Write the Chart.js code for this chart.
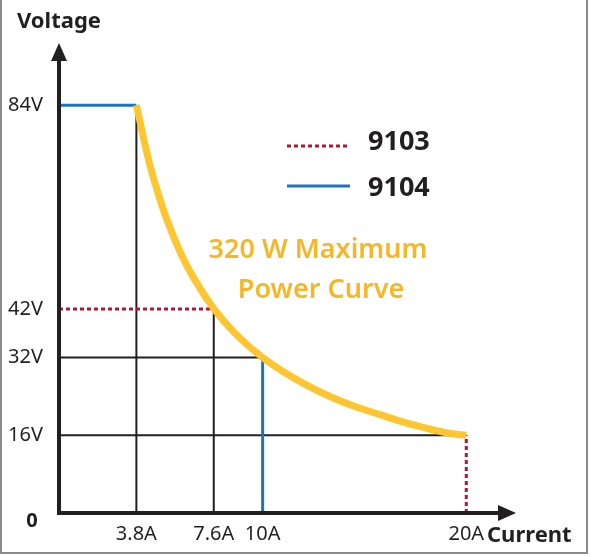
<!DOCTYPE html>
<html>
<head>
<meta charset="utf-8">
<script src="https://cdn.jsdelivr.net/npm/chart.js@4.4.1/dist/chart.umd.min.js"></script>
<style>
  html, body { margin: 0; padding: 0; background: #fff; }
  #wrap { width: 590px; height: 556px; }
</style>
</head>
<body>
<div id="wrap"><canvas id="chart" width="590" height="556"></canvas></div>
<script>
// 320 W curve (amps, volts)
const curveAmps = [3.8, 4.4, 4.8, 5.3, 6.0, 6.7, 7.6, 8.6, 10, 10.9, 12, 13.3, 14.5, 15.8, 17, 18.3, 19.2, 20];
const curveVolts = [84, 72.7, 66.7, 60.4, 53.3, 47.8, 42.1, 37.2, 32, 29.4, 26.7, 24, 22, 20.2, 18.6, 17.2, 16.4, 16];

// guide lines, each segment is [[amps, volts], [amps, volts]]
const gridSegs = [[[3.8, 0], [3.8, 84]], [[7.6, 0], [7.6, 42]], [[0, 32], [10, 32]], [[0, 16], [20, 16]]];
const segs9103 = [[[0, 42], [7.6, 42]], [[20, 0], [20, 16]]];
const segs9104 = [[[0, 84], [3.8, 84]], [[10, 0], [10, 32]]];

const xTicks = [3.8, 7.6, 10, 20];
const yTicks = [16, 32, 42, 84];
const seriesNames = ["9103", "9104"];

const FONT = "'Noto Sans', sans-serif";
const INK = "#231f20";
const RED = "#b3172f";
const BLUE = "#1b75bc";
const YELLOW = "#fdc52f";

function toPts(seg) {
  return seg.map(p => ({ x: p[0], y: p[1] }));
}

const datasets = [];
datasets.push({
  label: "320 W",
  data: curveAmps.map((a, i) => ({ x: a, y: curveVolts[i] })),
  borderColor: YELLOW,
  borderWidth: 7,
  cubicInterpolationMode: "monotone",
  order: 0
});
segs9103.forEach(s => datasets.push({
  label: seriesNames[0], data: toPts(s), borderColor: RED, borderWidth: 3,
  borderDash: [4, 3], order: 1
}));
segs9104.forEach(s => datasets.push({
  label: seriesNames[1], data: toPts(s), borderColor: BLUE, borderWidth: 3, order: 1
}));
gridSegs.forEach(s => datasets.push({
  label: "grid", data: toPts(s), borderColor: INK, borderWidth: 2, order: 2
}));
datasets.forEach(d => { d.showLine = true; d.pointRadius = 0; d.fill = false; });

const extras = {
  id: "extras",
  afterDraw(chart) {
    const ctx = chart.ctx;
    const x0 = chart.scales.x.getPixelForValue(0);
    const y0 = chart.scales.y.getPixelForValue(0);
    ctx.save();

    // frame
    ctx.strokeStyle = "#8a8a8a";
    ctx.lineWidth = 2;
    ctx.beginPath();
    ctx.moveTo(1, 0); ctx.lineTo(1, 553); ctx.lineTo(587, 553); ctx.lineTo(587, 0);
    ctx.stroke();

    // axes with arrows
    ctx.strokeStyle = INK;
    ctx.fillStyle = INK;
    ctx.lineWidth = 4;
    ctx.beginPath();
    ctx.moveTo(x0, y0 + 2); ctx.lineTo(x0, 58);
    ctx.moveTo(x0 - 2, y0); ctx.lineTo(502, y0);
    ctx.stroke();
    ctx.beginPath();
    ctx.moveTo(x0, 43); ctx.lineTo(x0 - 8, 61); ctx.lineTo(x0 + 8, 61); ctx.closePath();
    ctx.moveTo(516, y0); ctx.lineTo(498, y0 - 8); ctx.lineTo(498, y0 + 8); ctx.closePath();
    ctx.fill();

    // axis titles and origin
    ctx.textBaseline = "middle";
    ctx.font = "bold 22px " + FONT;
    ctx.textAlign = "left";
    ctx.fillText("Voltage", 17, 22);
    ctx.fillText("Current", 487, 536);
    ctx.font = "bold 20px " + FONT;
    ctx.textAlign = "center";
    ctx.fillText("0", 32, 521);

    // legend
    ctx.lineWidth = 3;
    ctx.strokeStyle = RED;
    ctx.setLineDash([4, 3]);
    ctx.beginPath(); ctx.moveTo(287, 146); ctx.lineTo(350, 146); ctx.stroke();
    ctx.setLineDash([]);
    ctx.strokeStyle = BLUE;
    ctx.beginPath(); ctx.moveTo(287, 186); ctx.lineTo(350, 186); ctx.stroke();
    ctx.fillStyle = INK;
    ctx.font = "bold 27px " + FONT;
    ctx.textAlign = "left";
    ctx.fillText(seriesNames[0], 368, 142);
    ctx.fillText(seriesNames[1], 368, 188);

    // curve note
    ctx.fillStyle = "#f7b626";
    ctx.font = "600 27px " + FONT;
    ctx.textAlign = "center";
    ctx.fillText("320 W Maximum", 318, 250);
    ctx.fillText("Power Curve", 321, 290);
    ctx.restore();
  }
};

new Chart(document.getElementById("chart"), {
  type: "scatter",
  data: { datasets: datasets },
  options: {
    responsive: false,
    animation: false,
    layout: { padding: { top: 76, right: 83, bottom: 0, left: 0 } },
    plugins: { legend: { display: false }, tooltip: { enabled: false } },
    scales: {
      x: {
        type: "linear", min: 0, max: 22,
        grid: { display: false, drawTicks: false },
        border: { display: false },
        afterFit: s => { s.height = 43; },
        afterBuildTicks: s => { s.ticks = xTicks.map(v => ({ value: v })); },
        ticks: {
          padding: 9, color: INK, font: { family: FONT, size: 20 },
          maxRotation: 0, autoSkip: false,
          callback: v => v + "A"
        }
      },
      y: {
        type: "linear", min: 0, max: 90,
        grid: { display: false, drawTicks: false },
        border: { display: false },
        afterFit: s => { s.width = 59; },
        afterBuildTicks: s => { s.ticks = yTicks.map(v => ({ value: v })); },
        ticks: {
          padding: 16, color: INK, font: { family: FONT, size: 20 },
          autoSkip: false,
          callback: v => v + "V"
        }
      }
    }
  },
  plugins: [extras]
});
</script>
</body>
</html>
